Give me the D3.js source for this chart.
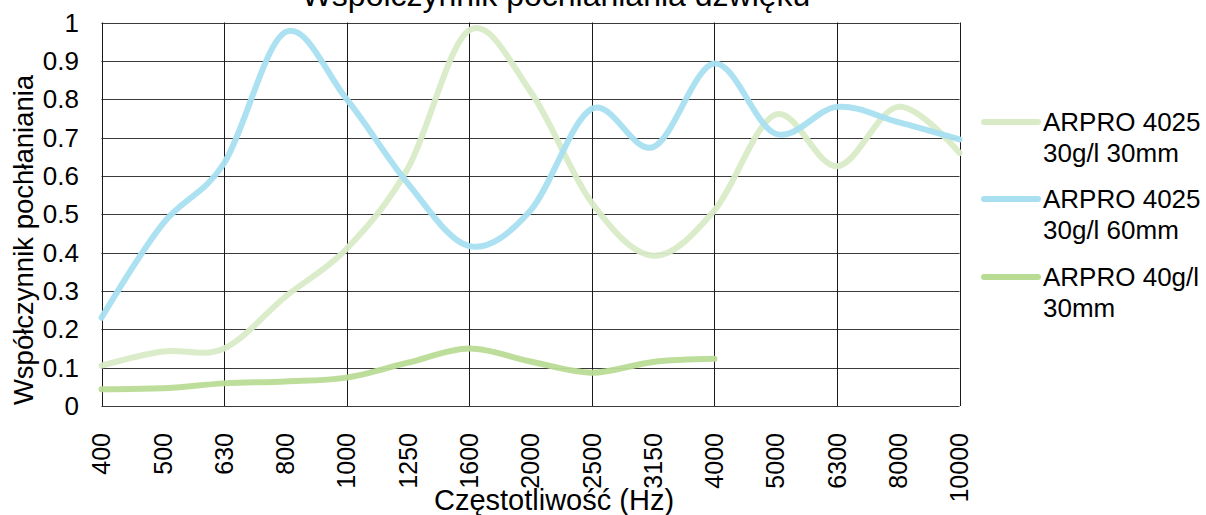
<!DOCTYPE html>
<html>
<head>
<meta charset="utf-8">
<script src="https://cdn.jsdelivr.net/npm/d3@7/dist/d3.min.js"></script>
<style>
  html, body { margin: 0; padding: 0; background: #fff; }
  svg { display: block; font-family: "Liberation Sans", Arial, sans-serif; }
</style>
</head>
<body>
<svg id="chart" width="1206" height="515"></svg>
<script>
const categories = ["400","500","630","800","1000","1250","1600","2000","2500","3150","4000","5000","6300","8000","10000"];
const series30mm = [0.105,0.142,0.150,0.285,0.41,0.62,0.98,0.82,0.53,0.392,0.51,0.76,0.625,0.78,0.66];
const series60mm = [0.23,0.475,0.633,0.975,0.80,0.58,0.417,0.51,0.775,0.675,0.893,0.71,0.78,0.74,0.695];
const series40gl = [0.044,0.046,0.059,0.064,0.074,0.113,0.150,0.116,0.087,0.115,0.123,null,null,null,null];
const seriesNames = [["ARPRO 4025","30g/l 30mm"],["ARPRO 4025","30g/l 60mm"],["ARPRO 40g/l","30mm"]];
const yTicks = [0,0.1,0.2,0.3,0.4,0.5,0.6,0.7,0.8,0.9,1];
const gridCats = ["400","630","1000","1600","2500","4000","6300","10000"];
const title = "Współczynnik pochłaniania dźwięku";
const xTitle = "Częstotliwość (Hz)";
const yTitle = "Współczynnik pochłaniania";

const colors = ["#d8ebc6", "#a8dff1", "#b9dc95"];
const svg = d3.select("#chart");
const pLeft = 101.5, pRight = 959.5, pTop = 22.5, pBottom = 406;

const x = d3.scalePoint().domain(categories).range([pLeft, pRight]).padding(0);
const y = d3.scaleLinear().domain([0, 1]).range([pBottom, pTop]);

// horizontal gridlines
svg.append("g").selectAll("line").data(yTicks).join("line")
  .attr("x1", pLeft).attr("x2", pRight)
  .attr("y1", d => Math.round(y(d)) + 0.5).attr("y2", d => Math.round(y(d)) + 0.5)
  .attr("stroke", "#3a3a3a").attr("stroke-width", 1);
// vertical gridlines
svg.append("g").selectAll("line").data(gridCats).join("line")
  .attr("x1", d => Math.round(x(d)) + 0.5).attr("x2", d => Math.round(x(d)) + 0.5)
  .attr("y1", pTop).attr("y2", pBottom)
  .attr("stroke", "#1a1a1a").attr("stroke-width", 1);

// y tick labels
svg.append("g").selectAll("text").data(yTicks).join("text")
  .attr("x", 79).attr("y", d => y(d)).attr("dy", "0.35em")
  .attr("text-anchor", "end").attr("font-size", 26).attr("fill", "#000")
  .text(d => d3.format("")(d));

// x tick labels
svg.append("g").selectAll("text").data(categories).join("text")
  .attr("transform", d => `translate(${x(d)},433) rotate(-90)`)
  .attr("dy", "0.35em").attr("text-anchor", "end")
  .attr("font-size", 25).attr("fill", "#000").text(d => d);

// lines
const line = d3.line()
  .defined(d => d.v != null)
  .x(d => x(d.c)).y(d => y(d.v))
  .curve(d3.curveCatmullRom.alpha(0));
const allSeries = [series30mm, series60mm, series40gl];
allSeries.forEach((s, i) => {
  const pts = categories.map((c, j) => ({c, v: s[j]}));
  svg.append("path").datum(pts)
    .attr("d", line).attr("fill", "none")
    .attr("stroke", colors[i]).attr("stroke-width", 6)
    .attr("stroke-linecap", "round").attr("stroke-linejoin", "round")
    .attr("opacity", 0.95);
});

// titles
svg.append("text").attr("x", 556).attr("y", 6).attr("text-anchor", "middle")
  .attr("font-size", 32).attr("fill", "#000").text(title);
svg.append("text").attr("x", 554).attr("y", 510).attr("text-anchor", "middle")
  .attr("font-size", 29).attr("fill", "#000").text(xTitle);
svg.append("text").attr("transform", "translate(33,240) rotate(-90)")
  .attr("text-anchor", "middle").attr("font-size", 27.5).attr("fill", "#000").text(yTitle);

// legend
const legY = [122, 199, 277];
seriesNames.forEach((nm, i) => {
  const g = svg.append("g");
  g.append("line").attr("x1", 984).attr("x2", 1038)
    .attr("y1", legY[i]).attr("y2", legY[i])
    .attr("stroke", colors[i]).attr("stroke-width", 6).attr("stroke-linecap", "round");
  nm.forEach((t, k) => {
    g.append("text").attr("x", 1043).attr("y", legY[i] + 9 + k * 31)
      .attr("font-size", 26).attr("fill", "#000").text(t);
  });
});
</script>
</body>
</html>
